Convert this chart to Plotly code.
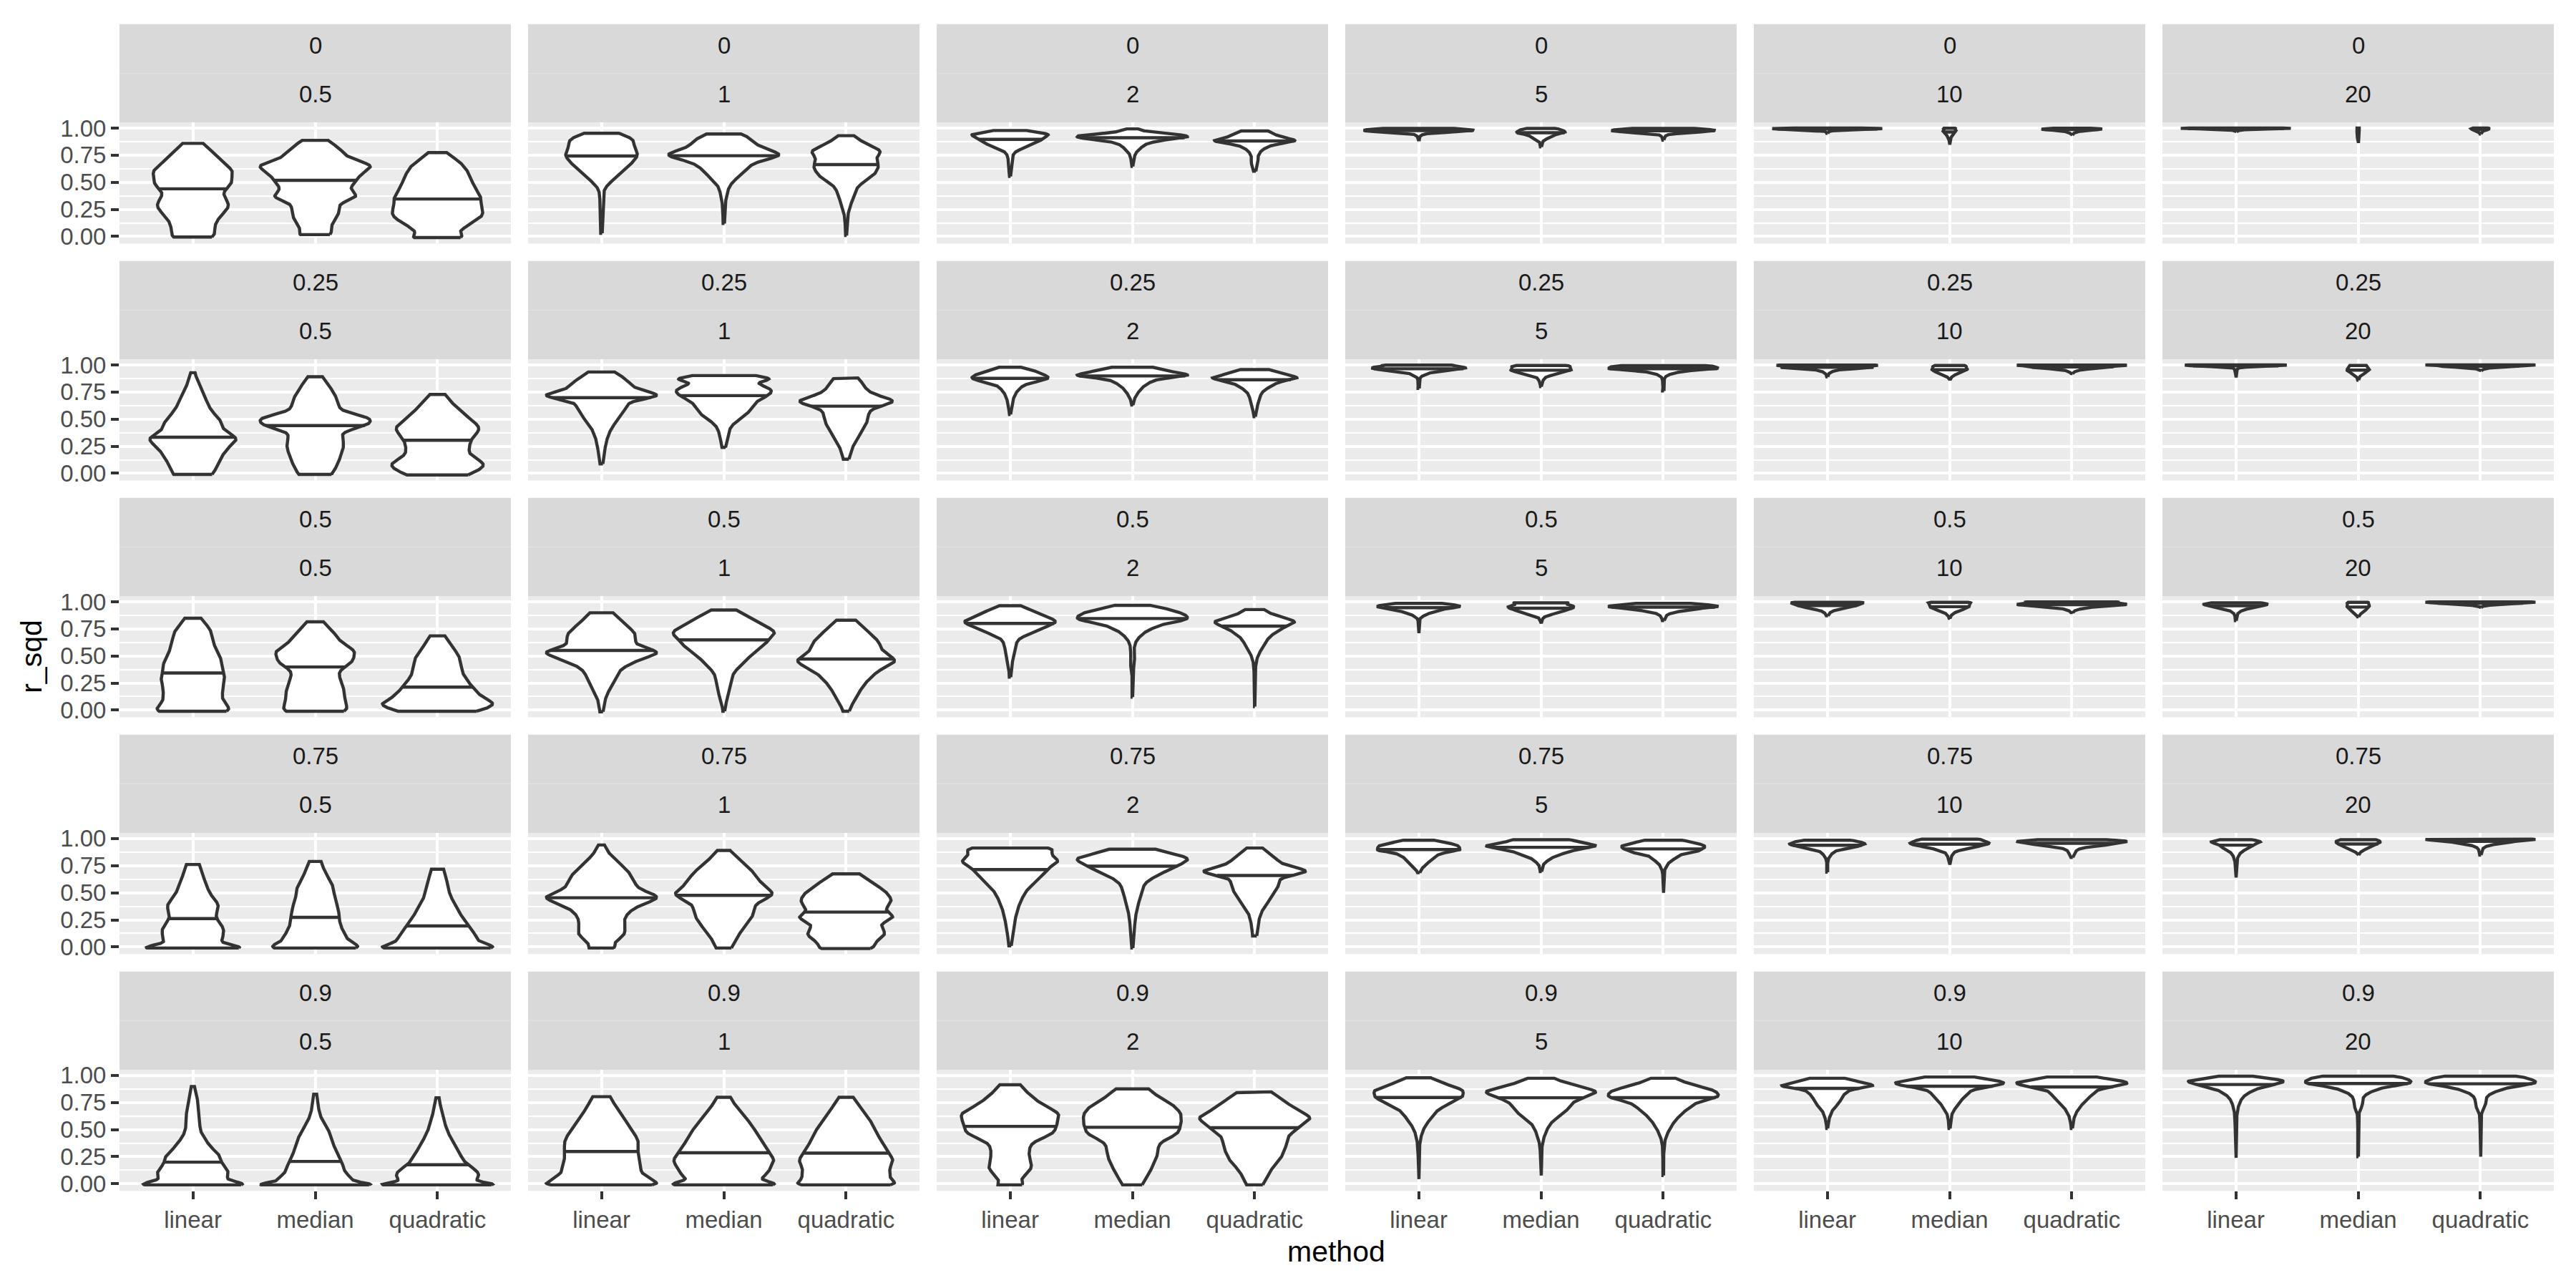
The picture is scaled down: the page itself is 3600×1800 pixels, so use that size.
import numpy as np
import plotly.graph_objects as go

# ---------------- data ----------------
ROW_LABELS = ["0", "0.25", "0.5", "0.75", "0.9"]       # first strip
COL_LABELS = ["0.5", "1", "2", "5", "10", "20"]         # second strip
METHODS = ["linear", "median", "quadratic"]
Y_TICKS = [0.0, 0.25, 0.5, 0.75, 1.0]
Y_TICK_TEXT = ["0.00", "0.25", "0.50", "0.75", "1.00"]
Y_MINOR = [0.125, 0.375, 0.625, 0.875]

# each panel: for linear, median, quadratic -> (r_sqd levels, observed density at that level)
P0_0 = [([0.859, 0.757, 0.659, 0.583, 0.496, 0.409, 0.30, 0.213, 0.083, -0.005], [30, 74, 110, 120, 112, 102, 107, 102, 82, 52]),
        ([0.887, 0.85, 0.78, 0.69, 0.648, 0.58, 0.506, 0.43, 0.365, 0.30, 0.19, 0.083, 0.017], [20, 55, 102, 152, 157, 148, 128, 111, 100, 97, 77, 54, 41]),
        ([0.774, 0.691, 0.583, 0.452, 0.343, 0.235, 0.148, 0.039, -0.01], [13, 64, 112, 130, 125, 145, 125, 89, 54])]
P0_1 = [([0.952, 0.902, 0.837, 0.75, 0.663, 0.576, 0.511, 0.424, 0.207, 0.03], [33, 82, 107, 107, 82, 50, 20, 9, 3, 2]),
        ([0.946, 0.88, 0.793, 0.75, 0.685, 0.598, 0.533, 0.446, 0.315, 0.12], [30, 105, 137, 135, 105, 55, 25, 16, 4, 2]),
        ([0.93, 0.859, 0.793, 0.728, 0.641, 0.554, 0.467, 0.337, 0.207, 0.01], [20, 55, 85, 97, 95, 68, 40, 16, 5, 1])]
P0_2 = [([0.978, 0.946, 0.913, 0.87, 0.826, 0.793, 0.728, 0.641, 0.554], [40, 105, 113, 85, 45, 17, 6, 5, 1]),
        ([0.993, 0.957, 0.935, 0.913, 0.891, 0.859, 0.815, 0.772, 0.707, 0.646], [10, 75, 140, 140, 100, 50, 20, 12, 3, 1]),
        ([0.974, 0.924, 0.891, 0.87, 0.837, 0.793, 0.728, 0.685, 0.641, 0.602], [40, 90, 103, 85, 45, 23, 8, 10, 6, 3])]
P0_3 = [([0.997, 0.99, 0.98, 0.97, 0.96, 0.95, 0.935, 0.915, 0.88], [70, 140, 143, 125, 60, 20, 6, 2, 1]),
        ([0.997, 0.985, 0.97, 0.955, 0.94, 0.92, 0.90, 0.88, 0.85, 0.826], [30, 58, 60, 55, 40, 25, 12, 6, 2, 1]),
        ([0.997, 0.99, 0.98, 0.97, 0.96, 0.95, 0.94, 0.925, 0.905, 0.89], [60, 125, 133, 125, 70, 30, 12, 5, 2, 1])]
P0_4 = [([1.0, 0.997, 0.993, 0.988, 0.982, 0.975, 0.965, 0.952], [60, 140, 142, 110, 40, 10, 3, 1]),
        ([0.998, 0.99, 0.975, 0.96, 0.94, 0.92, 0.90, 0.87, 0.848], [12, 16, 16, 14, 8, 4, 2, 1, 0.5]),
        ([0.999, 0.993, 0.987, 0.98, 0.97, 0.955, 0.935], [50, 70, 68, 50, 20, 5, 1])]
P0_5 = [([1.0, 0.998, 0.995, 0.991, 0.985, 0.975, 0.967], [100, 144, 140, 80, 20, 4, 1]),
        ([1.0, 0.99, 0.97, 0.95, 0.92, 0.89, 0.863], [2.5, 3, 3, 2.5, 2, 1.5, 1]),
        ([1.0, 0.993, 0.985, 0.975, 0.96, 0.946], [20, 24, 19, 10, 3, 1])]

P1_0 = [([0.928, 0.837, 0.707, 0.576, 0.467, 0.359, 0.315, 0.228, 0.12, -0.01], [3, 17, 41, 67, 97, 122, 127, 117, 97, 75]),
        ([0.891, 0.815, 0.707, 0.576, 0.511, 0.446, 0.38, 0.25, 0.12, -0.01], [15, 40, 80, 120, 140, 133, 120, 100, 80, 62]),
        ([0.728, 0.641, 0.533, 0.424, 0.315, 0.163, 0.076, -0.015], [17, 55, 95, 125, 135, 135, 137, 105])]
P1_1 = [([0.935, 0.859, 0.772, 0.717, 0.663, 0.554, 0.424, 0.25, 0.163, 0.087], [33, 90, 133, 133, 108, 72, 37, 12, 6, 2]),
        ([0.902, 0.87, 0.837, 0.78, 0.728, 0.663, 0.576, 0.511, 0.424, 0.315, 0.239], [100, 122, 133, 137, 137, 125, 85, 48, 22, 12, 3]),
        ([0.88, 0.815, 0.707, 0.663, 0.598, 0.467, 0.337, 0.207, 0.13], [20, 70, 110, 118, 100, 70, 38, 17, 4])]
P1_2 = [([0.978, 0.935, 0.891, 0.859, 0.815, 0.75, 0.663, 0.598, 0.543], [25, 90, 119, 85, 45, 21, 7, 3, 1]),
        ([0.978, 0.935, 0.902, 0.87, 0.815, 0.75, 0.685, 0.63], [60, 140, 140, 90, 40, 17, 5, 1]),
        ([0.957, 0.913, 0.88, 0.848, 0.804, 0.75, 0.663, 0.587, 0.522], [40, 103, 110, 80, 45, 28, 11, 5, 1])]
P1_3 = [([0.998, 0.99, 0.975, 0.96, 0.945, 0.93, 0.91, 0.89, 0.86, 0.82, 0.783], [60, 115, 125, 110, 60, 35, 15, 5, 2, 1, 2]),
        ([0.995, 0.985, 0.97, 0.95, 0.93, 0.91, 0.89, 0.86, 0.83, 0.80], [50, 75, 83, 80, 55, 30, 15, 5, 2, 1]),
        ([0.993, 0.98, 0.965, 0.95, 0.93, 0.91, 0.89, 0.86, 0.82, 0.78, 0.76], [110, 143, 135, 80, 30, 12, 5, 2, 1, 1, 2])]
P1_4 = [([0.998, 0.99, 0.975, 0.96, 0.94, 0.92, 0.89], [100, 142, 120, 40, 10, 4, 1]),
        ([0.995, 0.98, 0.96, 0.94, 0.92, 0.90, 0.88, 0.86], [35, 46, 46, 38, 20, 8, 3, 1]),
        ([0.998, 0.99, 0.975, 0.96, 0.94, 0.92], [120, 140, 100, 30, 6, 1])]
P1_5 = [([1.0, 0.996, 0.99, 0.983, 0.975, 0.96, 0.94, 0.91, 0.885], [110, 144, 120, 40, 10, 3, 2, 1, 1]),
        ([0.995, 0.97, 0.95, 0.93, 0.91, 0.89, 0.86], [26, 28, 28, 20, 10, 4, 1]),
        ([1.0, 0.995, 0.985, 0.975, 0.96, 0.946], [130, 142, 100, 30, 6, 1])]

P2_0 = [([0.848, 0.75, 0.641, 0.511, 0.424, 0.315, 0.207, 0.076, -0.01], [18, 42, 62, 74, 70, 76, 88, 100, 88]),
        ([0.815, 0.707, 0.598, 0.533, 0.446, 0.359, 0.207, 0.076, -0.01], [19, 55, 88, 95, 80, 77, 85, 90, 70]),
        ([0.685, 0.554, 0.446, 0.315, 0.207, 0.12, 0.054, -0.01], [19, 45, 65, 77, 97, 123, 140, 115])]
P2_1 = [([0.898, 0.815, 0.707, 0.598, 0.533, 0.467, 0.38, 0.25, 0.12, -0.015], [23, 60, 100, 118, 118, 102, 65, 32, 10, 4]),
        ([0.924, 0.837, 0.75, 0.685, 0.598, 0.511, 0.424, 0.337, 0.207, 0.12, -0.01], [30, 85, 130, 137, 115, 75, 42, 30, 22, 7, 2]),
        ([0.83, 0.728, 0.62, 0.511, 0.446, 0.359, 0.25, 0.12, -0.01], [22, 60, 97, 120, 115, 90, 58, 27, 6])]
P2_2 = [([0.963, 0.902, 0.837, 0.793, 0.728, 0.674, 0.576, 0.467, 0.359, 0.304], [20, 75, 118, 114, 70, 25, 15, 7, 3, 1]),
        ([0.967, 0.924, 0.88, 0.837, 0.793, 0.728, 0.641, 0.533, 0.446, 0.359, 0.12], [40, 110, 140, 130, 90, 40, 8, 3, 7, 1, 1]),
        ([0.928, 0.859, 0.815, 0.761, 0.685, 0.576, 0.467, 0.315, 0.17, 0.033], [23, 70, 92, 80, 50, 18, 4, 1, 0.6, 0.5])]
P2_3 = [([0.985, 0.97, 0.955, 0.94, 0.92, 0.90, 0.88, 0.86, 0.84, 0.80, 0.76, 0.71], [70, 105, 108, 95, 60, 35, 18, 8, 3, 1, 1, 1]),
        ([0.99, 0.98, 0.96, 0.94, 0.92, 0.90, 0.88, 0.86, 0.83, 0.80], [60, 90, 95, 90, 70, 45, 25, 10, 2, 1]),
        ([0.985, 0.97, 0.955, 0.94, 0.92, 0.90, 0.88, 0.86, 0.84, 0.826], [80, 135, 143, 130, 60, 25, 10, 6, 4, 2])]
P2_4 = [([0.995, 0.985, 0.97, 0.95, 0.93, 0.91, 0.89, 0.87], [70, 90, 92, 60, 25, 10, 4, 2]),
        ([0.995, 0.985, 0.97, 0.95, 0.93, 0.91, 0.89, 0.87, 0.848], [40, 52, 55, 50, 35, 18, 8, 3, 1]),
        ([0.998, 0.99, 0.975, 0.96, 0.94, 0.92, 0.90], [90, 135, 140, 90, 25, 6, 2])]
P2_5 = [([0.99, 0.975, 0.96, 0.94, 0.92, 0.90, 0.88, 0.85, 0.826], [72, 75, 70, 35, 15, 6, 3, 2, 1]),
        ([0.995, 0.98, 0.96, 0.94, 0.92, 0.90, 0.88, 0.86], [25, 30, 30, 25, 18, 10, 4, 1]),
        ([0.998, 0.99, 0.98, 0.97, 0.96, 0.946], [142, 140, 80, 25, 6, 1])]

P3_0 = [([0.761, 0.641, 0.511, 0.402, 0.337, 0.228, 0.141, 0.033, -0.01], [16, 27, 45, 58, 57, 62, 80, 110, 105]),
        ([0.789, 0.641, 0.533, 0.402, 0.293, 0.163, 0.054, -0.01], [15, 32, 47, 52, 58, 74, 100, 97]),
        ([0.717, 0.598, 0.467, 0.359, 0.25, 0.141, 0.043, -0.01], [15, 25, 35, 45, 65, 95, 135, 123])]
P3_1 = [([0.941, 0.859, 0.75, 0.641, 0.522, 0.457, 0.38, 0.293, 0.207, 0.12, 0.033, -0.01], [3, 22, 52, 92, 132, 132, 102, 64, 59, 70, 42, 25]),
        ([0.891, 0.793, 0.685, 0.576, 0.489, 0.424, 0.315, 0.207, 0.098, -0.01], [12, 45, 85, 120, 115, 100, 85, 65, 35, 22]),
        ([0.674, 0.598, 0.511, 0.424, 0.337, 0.272, 0.207, 0.12, 0.033, -0.015], [30, 75, 110, 130, 120, 97, 102, 115, 100, 45])]
P3_2 = [([0.913, 0.859, 0.793, 0.728, 0.641, 0.533, 0.38, 0.207, 0.01], [110, 122, 120, 105, 85, 55, 22, 12, 2]),
        ([0.902, 0.848, 0.804, 0.75, 0.685, 0.598, 0.424, 0.25, 0.12, -0.01], [65, 125, 140, 120, 80, 50, 17, 7, 4, 1]),
        ([0.913, 0.837, 0.75, 0.696, 0.641, 0.533, 0.424, 0.315, 0.163, 0.102], [14, 55, 97, 110, 92, 65, 33, 20, 8, 3])]
P3_3 = [([0.985, 0.97, 0.95, 0.93, 0.91, 0.89, 0.87, 0.84, 0.80, 0.76, 0.72, 0.685], [35, 70, 100, 114, 114, 100, 75, 55, 35, 20, 8, 2]),
        ([0.99, 0.975, 0.955, 0.935, 0.915, 0.89, 0.86, 0.83, 0.80, 0.78, 0.75, 0.72, 0.696], [75, 100, 130, 143, 140, 100, 60, 35, 20, 10, 5, 3, 2]),
        ([0.985, 0.97, 0.95, 0.93, 0.91, 0.89, 0.87, 0.85, 0.82, 0.79, 0.76, 0.73, 0.70, 0.65, 0.60, 0.55, 0.50],
         [45, 80, 105, 119, 115, 100, 75, 55, 35, 20, 10, 6, 3, 1, 1, 1, 1])]
P3_4 = [([0.985, 0.97, 0.95, 0.93, 0.91, 0.89, 0.86, 0.83, 0.80, 0.76, 0.72, 0.69], [50, 105, 110, 85, 55, 30, 12, 5, 2, 1, 2, 1]),
        ([0.995, 0.98, 0.96, 0.94, 0.92, 0.90, 0.88, 0.85, 0.82, 0.79, 0.76], [70, 105, 114, 100, 60, 35, 18, 7, 3, 2, 1]),
        ([0.99, 0.975, 0.96, 0.94, 0.92, 0.90, 0.88, 0.86, 0.84, 0.826], [100, 140, 145, 100, 35, 15, 10, 8, 4, 2])]
P3_5 = [([0.99, 0.97, 0.95, 0.92, 0.89, 0.86, 0.83, 0.80, 0.76, 0.72, 0.68, 0.64], [45, 60, 60, 40, 20, 10, 5, 3, 2, 2, 1, 1]),
        ([0.99, 0.97, 0.95, 0.93, 0.91, 0.89, 0.87, 0.848], [55, 62, 55, 40, 25, 12, 5, 1]),
        ([0.995, 0.985, 0.97, 0.95, 0.93, 0.91, 0.89, 0.87, 0.848], [135, 142, 100, 40, 15, 6, 4, 3, 2])]

P4_0 = [([0.898, 0.75, 0.641, 0.467, 0.359, 0.272, 0.207, 0.12, 0.033, -0.01], [3, 12, 19, 26, 42, 60, 70, 98, 126, 120]),
        ([0.826, 0.641, 0.511, 0.424, 0.315, 0.207, 0.098, 0.022, -0.01], [3, 14, 30, 42, 52, 70, 98, 128, 121]),
        ([0.793, 0.641, 0.511, 0.402, 0.293, 0.185, 0.098, 0.022, -0.01], [3, 14, 24, 34, 57, 83, 113, 135, 126])]
P4_1 = [([0.804, 0.707, 0.576, 0.446, 0.337, 0.207, 0.098, 0.033, -0.01], [18, 45, 73, 97, 105, 120, 132, 137, 125]),
        ([0.798, 0.663, 0.533, 0.402, 0.293, 0.207, 0.12, 0.033, -0.01], [17, 47, 83, 117, 132, 126, 132, 143, 128]),
        ([0.798, 0.663, 0.533, 0.402, 0.293, 0.207, 0.12, 0.043, -0.01], [18, 50, 80, 110, 123, 118, 132, 142, 123])]
P4_2 = [([0.913, 0.837, 0.728, 0.641, 0.554, 0.467, 0.38, 0.25, 0.141, 0.033, -0.01], [17, 55, 105, 128, 128, 110, 70, 55, 60, 37, 25]),
        ([0.876, 0.815, 0.728, 0.641, 0.554, 0.467, 0.38, 0.25, 0.12, -0.01], [33, 75, 115, 138, 133, 110, 90, 70, 50, 28]),
        ([0.848, 0.772, 0.685, 0.609, 0.533, 0.446, 0.337, 0.228, 0.12, -0.01], [40, 85, 125, 142, 125, 103, 87, 68, 46, 23])]
P4_3 = [([0.978, 0.913, 0.859, 0.804, 0.75, 0.685, 0.598, 0.5, 0.38, 0.207, 0.043], [30, 90, 120, 114, 90, 60, 32, 12, 3, 1, 1]),
        ([0.974, 0.913, 0.859, 0.815, 0.75, 0.663, 0.576, 0.467, 0.359, 0.207, 0.076], [33, 90, 135, 130, 102, 65, 33, 10, 3, 1, 1]),
        ([0.974, 0.913, 0.859, 0.804, 0.75, 0.663, 0.554, 0.467, 0.359, 0.207, 0.076], [30, 85, 139, 133, 105, 65, 25, 8, 2, 1, 1])]
P4_4 = [([0.974, 0.935, 0.902, 0.87, 0.815, 0.75, 0.685, 0.598, 0.511], [50, 110, 114, 80, 48, 34, 18, 4, 1]),
        ([0.985, 0.946, 0.913, 0.87, 0.793, 0.717, 0.641, 0.511], [70, 136, 138, 90, 38, 18, 7, 1]),
        ([0.985, 0.946, 0.913, 0.87, 0.793, 0.707, 0.62, 0.511], [70, 138, 139, 95, 52, 20, 7, 1])]
P4_5 = [([0.993, 0.957, 0.924, 0.88, 0.815, 0.728, 0.641, 0.467, 0.239], [35, 115, 115, 65, 23, 5, 4, 1, 1]),
        ([0.993, 0.963, 0.928, 0.891, 0.837, 0.772, 0.728, 0.663, 0.533, 0.25], [90, 138, 134, 80, 25, 5, 15, 2, 1, 1]),
        ([0.993, 0.963, 0.928, 0.891, 0.837, 0.772, 0.728, 0.663, 0.533, 0.25], [90, 140, 140, 90, 28, 7, 17, 3, 1, 1])]

PANELS = [
    [P0_0, P0_1, P0_2, P0_3, P0_4, P0_5],
    [P1_0, P1_1, P1_2, P1_3, P1_4, P1_5],
    [P2_0, P2_1, P2_2, P2_3, P2_4, P2_5],
    [P3_0, P3_1, P3_2, P3_3, P3_4, P3_5],
    [P4_0, P4_1, P4_2, P4_3, P4_4, P4_5],
]

# ---------------- geometry / style ----------------
W, H = 3600, 1800
PANEL_LEFT = 167
PANEL_W = 547
PITCH_X = 571
TOP = 23
STRIP_H = 69.5
PANEL_H = 171
PITCH_Y = 334.5
Y_RANGE = [-0.066, 1.051]
X_RANGE = [0.4, 3.6]
VIOLIN_WIDTH = 0.9
BW_FACTOR = 0.6
STRIP_TEXT_LIFT = 5
X_TITLE_Y = 1757

INK = "#333333"
FONT = "Liberation Sans, Arial, sans-serif"
TICK_FONT = dict(family=FONT, size=33, color="#4D4D4D")
STRIP_FONT = dict(family=FONT, size=33, color="#1A1A1A")
TITLE_FONT = dict(family=FONT, size=41, color="#000000")
LW = 4.4


def violin_density(levels, dens, npts=600):
    """Gaussian kernel density of the binned observations, trimmed to their range."""
    y = np.asarray(levels, float)
    d = np.asarray(dens, float)
    o = np.argsort(y)
    y, d = y[o], d[o]
    lo, hi = y[0], y[-1]
    gaps = np.diff(y)
    cell = np.empty_like(y)
    widest = np.empty_like(y)
    cell[0], cell[-1] = gaps[0], gaps[-1]
    cell[1:-1] = 0.5 * (gaps[:-1] + gaps[1:])
    widest[0], widest[-1] = gaps[0], gaps[-1]
    widest[1:-1] = np.maximum(gaps[:-1], gaps[1:])
    mass = d * cell
    bw = BW_FACTOR * widest
    grid = np.linspace(lo, hi, npts)
    z = (grid[:, None] - y[None, :]) / bw[None, :]
    f = (mass[None, :] * np.exp(-0.5 * z * z) / (bw[None, :] * np.sqrt(2 * np.pi))).sum(axis=1)
    return grid, f


fig = go.Figure()
layout = dict(
    width=W, height=H,
    margin=dict(l=0, r=0, t=0, b=0),
    plot_bgcolor="#EBEBEB", paper_bgcolor="white",
    showlegend=False,
)
shapes, annotations = [], []

for r in range(len(ROW_LABELS)):
    for c in range(len(COL_LABELS)):
        k = r * len(COL_LABELS) + c + 1
        sfx = "" if k == 1 else str(k)
        x0 = PANEL_LEFT + c * PITCH_X
        x1 = x0 + PANEL_W
        st = TOP + r * PITCH_Y
        pt = st + 2 * STRIP_H
        pb = pt + PANEL_H
        bottom_row = r == len(ROW_LABELS) - 1
        left_col = c == 0

        layout["xaxis" + sfx] = dict(
            domain=[x0 / W, x1 / W], anchor="y" + sfx, range=X_RANGE,
            tickmode="array", tickvals=[1, 2, 3], ticktext=METHODS,
            showticklabels=bottom_row, ticks="outside" if bottom_row else "",
            ticklen=11, tickwidth=LW, tickcolor=INK, tickfont=TICK_FONT,
            showgrid=True, gridcolor="white", gridwidth=LW,
            zeroline=False, showline=False, fixedrange=True,
        )
        layout["yaxis" + sfx] = dict(
            domain=[1 - pb / H, 1 - pt / H], anchor="x" + sfx, range=Y_RANGE,
            tickmode="array", tickvals=Y_TICKS, ticktext=Y_TICK_TEXT,
            showticklabels=left_col, ticks="outside" if left_col else "",
            ticklen=11, tickwidth=LW, tickcolor=INK, tickfont=TICK_FONT,
            showgrid=True, gridcolor="white", gridwidth=LW,
            minor=dict(tickmode="array", tickvals=Y_MINOR, showgrid=True,
                       gridcolor="white", gridwidth=LW / 2, ticks=""),
            zeroline=False, showline=False, fixedrange=True,
        )

        # strips
        shapes.append(dict(type="rect", xref="paper", yref="paper",
                           x0=x0 / W, x1=x1 / W, y0=1 - pt / H, y1=1 - st / H,
                           fillcolor="#D9D9D9", line=dict(width=0), layer="below"))
        shapes.append(dict(type="line", xref="paper", yref="paper",
                           x0=x0 / W, x1=x1 / W, y0=1 - (st + STRIP_H) / H, y1=1 - (st + STRIP_H) / H,
                           line=dict(color="#E2E2E2", width=1.2)))
        annotations.append(dict(text=ROW_LABELS[r], xref="paper", yref="paper",
                                x=(x0 + x1) / 2 / W, y=1 - (st + STRIP_H / 2 - STRIP_TEXT_LIFT) / H,
                                xanchor="center", yanchor="middle", showarrow=False, font=STRIP_FONT))
        annotations.append(dict(text=COL_LABELS[c], xref="paper", yref="paper",
                                x=(x0 + x1) / 2 / W, y=1 - (st + 1.5 * STRIP_H - STRIP_TEXT_LIFT) / H,
                                xanchor="center", yanchor="middle", showarrow=False, font=STRIP_FONT))

        # violins
        curves = [violin_density(*PANELS[r][c][m]) for m in range(len(METHODS))]
        fmax = max(f.max() for _, f in curves)
        for m, (g, f) in enumerate(curves):
            pos = m + 1
            hw = (VIOLIN_WIDTH / 2) * f / fmax
            xs = np.concatenate([pos + hw, (pos - hw)[::-1], [pos + hw[0]]])
            ys = np.concatenate([g, g[::-1], [g[0]]])
            fig.add_trace(go.Scatter(
                x=xs, y=ys, mode="lines", fill="toself", fillcolor="white",
                line=dict(color=INK, width=LW), xaxis="x" + sfx, yaxis="y" + sfx,
                hoverinfo="skip", showlegend=False))
            cdf = np.concatenate([[0.0], np.cumsum(0.5 * (f[1:] + f[:-1]) * np.diff(g))])
            med = float(np.interp(0.5 * cdf[-1], cdf, g))
            wmed = float(np.interp(med, g, hw))
            fig.add_trace(go.Scatter(
                x=[pos - wmed, pos + wmed], y=[med, med], mode="lines",
                line=dict(color=INK, width=LW), xaxis="x" + sfx, yaxis="y" + sfx,
                hoverinfo="skip", showlegend=False))

panels_x0 = PANEL_LEFT
panels_x1 = PANEL_LEFT + 5 * PITCH_X + PANEL_W
panels_top = TOP + 2 * STRIP_H
panels_bot = TOP + 4 * PITCH_Y + 2 * STRIP_H + PANEL_H
annotations.append(dict(text="method", xref="paper", yref="paper",
                        x=(panels_x0 + panels_x1) / 2 / W, y=1 - X_TITLE_Y / H,
                        xanchor="center", yanchor="middle", showarrow=False, font=TITLE_FONT))
annotations.append(dict(text="r_sqd", xref="paper", yref="paper", textangle=-90,
                        x=44 / W, y=1 - (panels_top + panels_bot) / 2 / H,
                        xanchor="center", yanchor="middle", showarrow=False, font=TITLE_FONT))

layout["shapes"] = shapes
layout["annotations"] = annotations
fig.update_layout(**layout)
fig.write_html("out.html")
